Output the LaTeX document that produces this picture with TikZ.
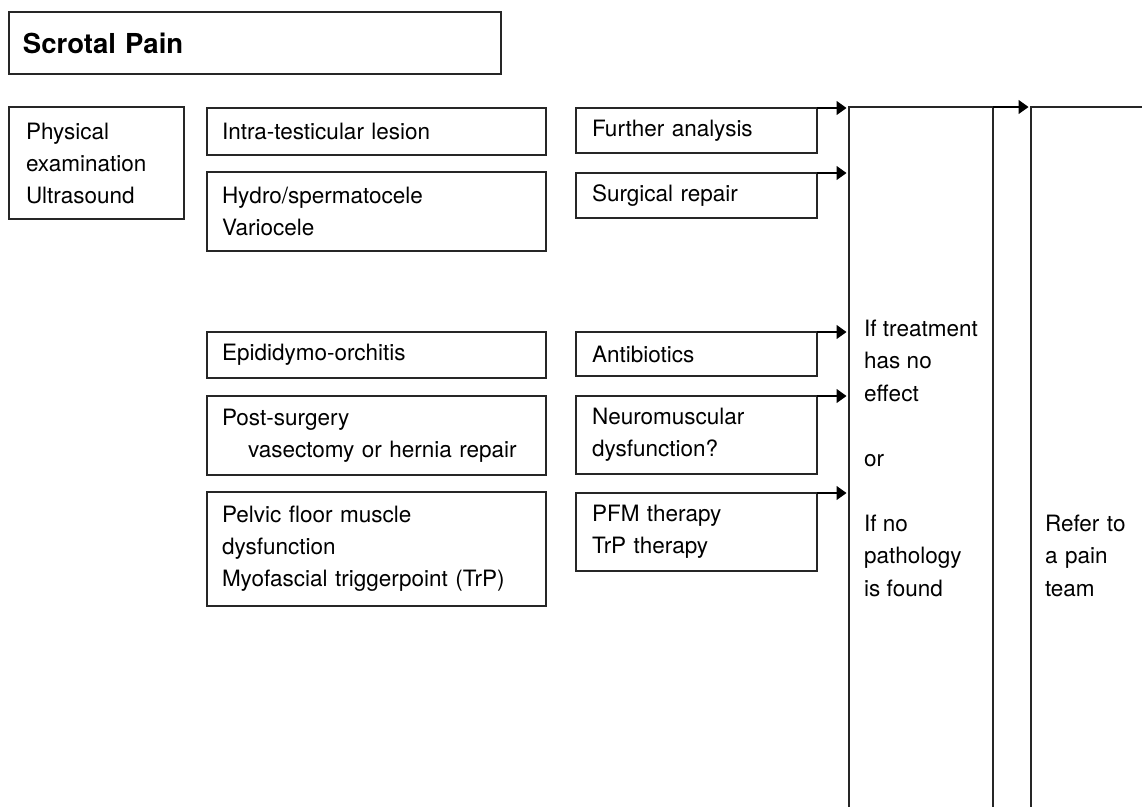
\documentclass[tikz,border=0pt]{standalone}
\usepackage{fontspec}
\setmainfont{TeX Gyre Heros}
\usetikzlibrary{arrows.meta}
\begin{document}
\begin{tikzpicture}[x=1pt,y=-1pt,
  box/.style={draw=black!85, line width=1.2pt, rectangle, outer sep=0pt, anchor=north west, align=left, font=\fontsize{22.5}{32}\selectfont, inner ysep=0pt},
  c1/.style={box, inner xsep=17pt, text width=141pt},
  c2/.style={box, inner xsep=15pt, text width=309pt},
  c3/.style={box, inner xsep=16pt, text width=209pt},
  big/.style={box, font=\fontsize{22.5}{32.5}\selectfont},
  arr/.style={draw=black, line width=1.2pt, -{Triangle[length=10pt,width=14pt]}, shorten >=2.5pt}]
\useasboundingbox (0,0) rectangle (1142,806);
\clip (0,0) rectangle (1142,806);
\node[box, font=\fontsize{27.5}{33}\selectfont\bfseries, inner xsep=14pt, text width=464pt, minimum height=62pt] (title) at (9,12) {Scrotal Pain};
\node[c1, minimum height=112pt] (exam) at (9,107) {Physical\\examination\\Ultrasound};
\node[c2, minimum height=47pt] (intra) at (207,108) {Intra-testicular lesion};
\node[c2, minimum height=79pt] (hydro) at (207,172) {Hydro/spermatocele\\Variocele};
\node[c2, minimum height=46pt] (epi) at (207,332) {Epididymo-orchitis};
\node[c2, minimum height=79pt] (post) at (207,396) {Post-surgery\\\hspace*{26pt}vasectomy or hernia repair};
\node[c2, minimum height=114pt] (pelvic) at (207,492) {Pelvic floor muscle\\dysfunction\\Myofascial triggerpoint (TrP)};
\node[c3, minimum height=45pt] (further) at (576,108) {Further analysis};
\node[c3, minimum height=45pt] (surg) at (576,173) {Surgical repair};
\node[c3, minimum height=44pt] (anti) at (576,332) {Antibiotics};
\node[c3, minimum height=78pt] (neuro) at (576,396) {Neuromuscular\\dysfunction?};
\node[c3, minimum height=78pt] (pfm) at (576,493) {PFM therapy\\TrP therapy};
\node[big, inner xsep=0pt, minimum width=144pt, minimum height=702pt] (fail) at (849,107) {If treatment\\has no\\effect\\[32.5pt]or\\[32.5pt]If no\\pathology\\is found};
\node[big, inner xsep=14pt, text width=100pt, minimum height=897pt] (refer) at (1031,107) {Refer to\\a pain\\team};
\foreach \n in {further,surg,anti,neuro,pfm}
  \draw[arr] (\n.north east) -- (\n.north east -| fail.west);
\draw[arr] (fail.north east) -- (fail.north east -| refer.west);
\end{tikzpicture}
\end{document}
